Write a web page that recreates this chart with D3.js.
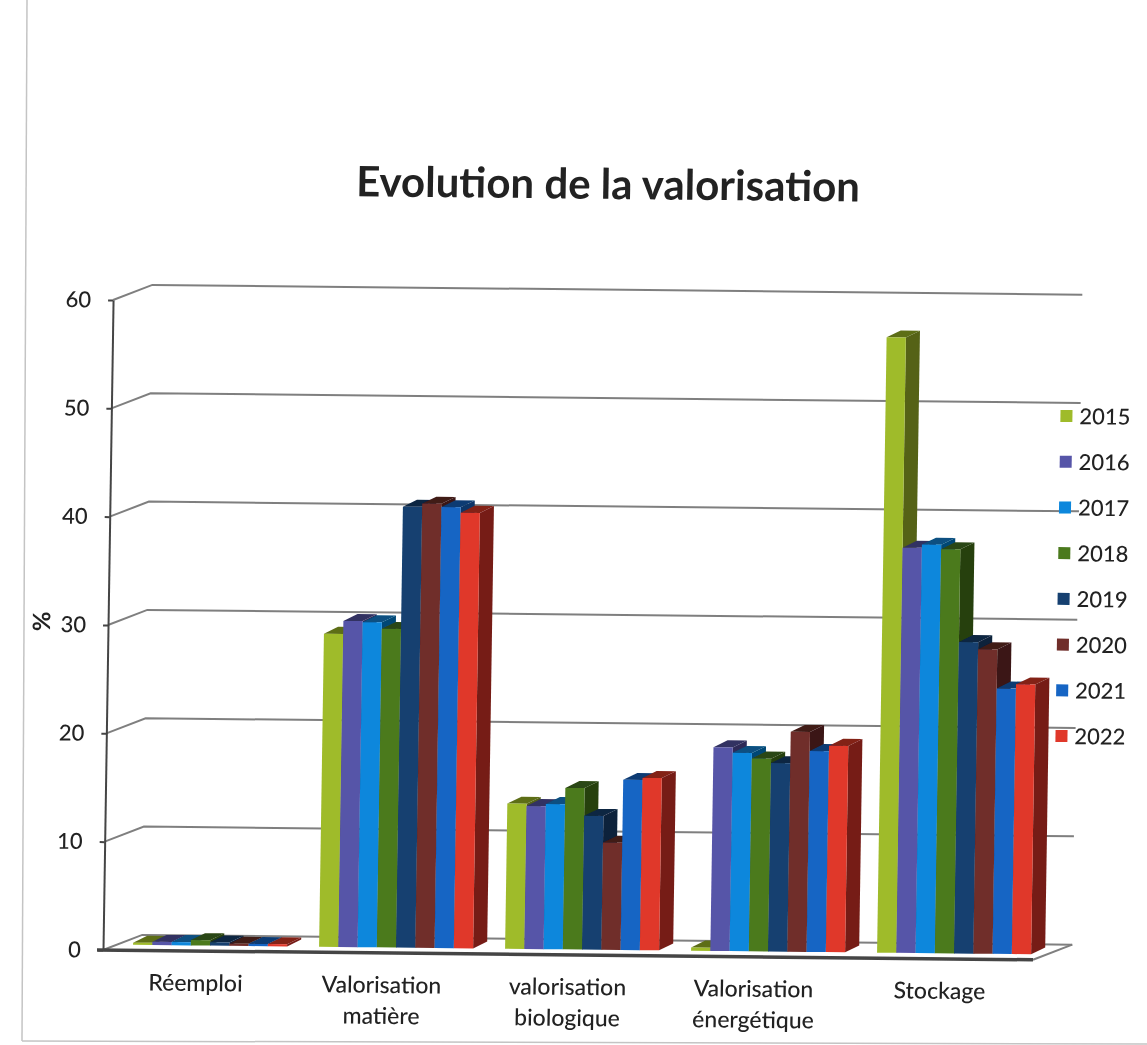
<!DOCTYPE html>
<html>
<head>
<meta charset="utf-8">
<script src="https://cdn.jsdelivr.net/npm/d3@7"></script>
<style>
	html, body { margin: 0; padding: 0; background: #fff; }
	svg { display: block; }
	text { font-family: Lato, sans-serif; fill: #222; font-weight: 500; }
</style>
</head>
<body>
<svg id="chart" width="1147" height="1045">
	<defs>
		<filter id="scan" x="-5%" y="-5%" width="110%" height="110%">
			<feGaussianBlur stdDeviation="0.5"></feGaussianBlur>
		</filter>
	</defs>
</svg>
<script>
// Données
const categories = [['Réemploi'], ['Valorisation', 'matière'], ['valorisation', 'biologique'], ['Valorisation', 'énergétique'], ['Stockage']];
const years = ['2015', '2016', '2017', '2018', '2019', '2020', '2021', '2022'];
const values2015 = [0.2, 28.9, 13.4, 0.3, 56.8];
const values2016 = [0.3, 30.1, 13.2, 18.8, 37.4];
const values2017 = [0.3, 30.0, 13.4, 18.3, 37.7];
const values2018 = [0.5, 29.4, 14.9, 17.8, 37.3];
const values2019 = [0.3, 40.7, 12.35, 17.4, 28.75];
const values2020 = [0.2, 41.0, 9.9, 20.3, 28.1];
const values2021 = [0.2, 40.7, 15.7, 18.55, 24.5];
const values2022 = [0.2, 40.2, 15.9, 19.05, 24.9];
const series = [values2015, values2016, values2017, values2018, values2019, values2020, values2021, values2022];
const colors = ['#9fbb2b', '#5754a8', '#0c87dc', '#4b7a1f', '#123f70', '#6f2d2a', '#1565c4', '#e0382a'];
const yTicks = [0, 10, 20, 30, 40, 50, 60];

const svg = d3.select('#chart');
const page = svg.append('g').attr('filter', 'url(#scan)');

// Le cadre du scan
page.append('line').attr('x1', 27).attr('y1', 0).attr('x2', 22).attr('y2', 1041).attr('stroke', '#c4c4c4').attr('stroke-width', 1.5);
page.append('line').attr('x1', 22).attr('y1', 1041).attr('x2', 1147).attr('y2', 1044).attr('stroke', '#c4c4c4').attr('stroke-width', 1.5);

// Le scan est légèrement de travers : tout est dessiné dans ce repère
const root = page.append('g').attr('transform', 'translate(103,950) matrix(1,0.0105,-0.0155,1,0,0)');

const plotWidth = 930;
const plotHeight = 650;
const wallDx = 39;
const wallDy = -15.5;
const barOffsetX = 14;
const barOffsetY = -5.5;
const sideDx = 14;
const sideDy = -7;

const xScale = d3.scaleBand().domain(d3.range(categories.length)).range([0, plotWidth]).paddingInner(0.172).paddingOuter(0.086);
const yearScale = d3.scaleBand().domain(d3.range(years.length)).range([0, xScale.bandwidth()]);
const yScale = d3.scaleLinear().domain([0, 60]).range([0, -plotHeight]);

const poly = (pts) => d3.line()(pts) + 'Z';

// Mur du fond, mur de gauche et sol
yTicks.forEach((t) => {
	const y = yScale(t);
	root.append('path')
		.attr('d', d3.line()([[0, y], [wallDx, y + wallDy], [plotWidth + wallDx, y + wallDy]]))
		.attr('fill', 'none')
		.attr('stroke', '#7f7f7f')
		.attr('stroke-width', 2);
});
root.append('path')
	.attr('d', d3.line()([[plotWidth, 0], [plotWidth + wallDx, wallDy]]))
	.attr('fill', 'none')
	.attr('stroke', '#7f7f7f')
	.attr('stroke-width', 2);

// Les barres, de gauche à droite pour que chacune recouvre le flanc de la précédente
const bars = root.append('g').attr('transform', `translate(${barOffsetX},${barOffsetY})`);
categories.forEach((c, i) => {
	series.forEach((values, j) => {
		const x0 = xScale(i) + yearScale(j);
		const x1 = x0 + yearScale.bandwidth();
		const top = yScale(values[i]);
		bars.append('path')
			.attr('d', poly([[x1, 0], [x1 + sideDx, sideDy], [x1 + sideDx, top + sideDy], [x1, top]]))
			.attr('fill', d3.color(colors[j]).darker(1.8));
		bars.append('path')
			.attr('d', poly([[x0, top], [x0 + sideDx, top + sideDy], [x1 + sideDx, top + sideDy], [x1, top]]))
			.attr('fill', d3.color(colors[j]).darker(1.5));
		bars.append('rect')
			.attr('x', x0)
			.attr('y', top)
			.attr('width', yearScale.bandwidth())
			.attr('height', -top)
			.attr('fill', colors[j]);
	});
});

// Axe vertical
const yAxis = root.append('g')
	.call(d3.axisLeft(yScale).tickValues(yTicks).tickSize(5).tickSizeOuter(0).tickPadding(17));
yAxis.selectAll('path, line').attr('stroke', '#444').attr('stroke-width', 2);
yAxis.selectAll('text').attr('font-size', 22).attr('font-family', 'Lato, sans-serif').attr('fill', '#222');

// Axe horizontal
root.append('line')
	.attr('x1', -6).attr('y1', 0).attr('x2', plotWidth).attr('y2', 0)
	.attr('stroke', '#444').attr('stroke-width', 3.5);

// Libellés des catégories
categories.forEach((c, i) => {
	c.forEach((line, k) => {
		root.append('text')
			.attr('x', xScale(i) + xScale.bandwidth() / 2)
			.attr('y', 40 + k * 31)
			.attr('text-anchor', 'middle')
			.attr('font-size', 23)
			.text(line);
	});
});

// Titre
root.append('text')
	.attr('x', 505 + 0.0155 * -765)
	.attr('y', -765 - 0.0105 * 505 + 14)
	.attr('text-anchor', 'middle')
	.attr('font-size', 42)
	.style('font-weight', 'bold')
	.text('Evolution de la valorisation');

// Titre de l'axe
root.append('text')
	.attr('transform', 'translate(-58,-328) rotate(-90)')
	.attr('text-anchor', 'middle')
	.attr('font-size', 24)
	.style('font-weight', 'bold')
	.text('%');

// Légende
const legendScale = d3.scalePoint().domain(years).range([-544, -224]);
years.forEach((year, j) => {
	const g = root.append('g').attr('transform', `translate(949,${legendScale(year)})`);
	g.append('rect').attr('x', 0).attr('y', -6).attr('width', 12).attr('height', 12).attr('fill', colors[j]);
	g.append('text').attr('x', 19).attr('y', 8).attr('font-size', 22).text(year);
});
</script>
</body>
</html>
